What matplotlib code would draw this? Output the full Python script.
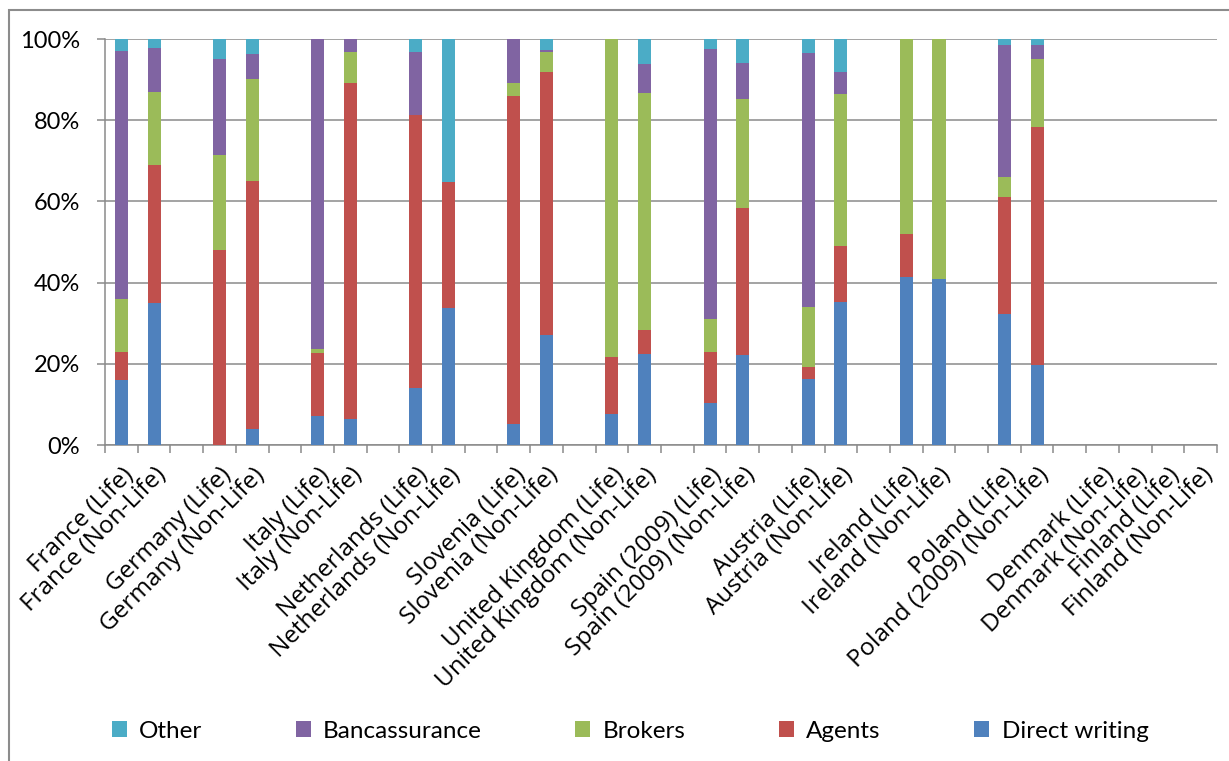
import matplotlib
matplotlib.use("Agg")
import matplotlib.pyplot as plt
from matplotlib.patches import Rectangle, Patch
from matplotlib.ticker import PercentFormatter, FixedLocator
import numpy as np

# Distribution channels by country and line of business (share of premiums, %)
categories = [
    "France (Life)", "France (Non-Life)", "",
    "Germany (Life)", "Germany (Non-Life)", "",
    "Italy (Life)", "Italy (Non-Life)", "",
    "Netherlands (Life)", "Netherlands (Non-Life)", "",
    "Slovenia (Life)", "Slovenia (Non-Life)", "",
    "United Kingdom (Life)", "United Kingdom (Non-Life)", "",
    "Spain (2009) (Life)", "Spain (2009) (Non-Life)", "",
    "Austria (Life)", "Austria (Non-Life)", "",
    "Ireland (Life)", "Ireland (Non-Life)", "",
    "Poland (Life)", "Poland (2009) (Non-Life)", "",
    "Denmark (Life)", "Denmark (Non-Life)", "Finland (Life)", "Finland (Non-Life)",
]

direct_writing = [15.9, 34.9, 0, 0.0, 4.0, 0, 7.2, 6.4, 0, 14.1, 33.8, 0,
                  5.1, 27.0, 0, 7.7, 22.5, 0, 10.3, 22.2, 0, 16.3, 35.2, 0,
                  41.5, 40.8, 0, 32.3, 19.8, 0, 0, 0, 0, 0]
agents = [7.0, 34.1, 0, 48.1, 61.0, 0, 15.4, 82.7, 0, 67.1, 31.1, 0,
          80.8, 64.8, 0, 13.9, 5.8, 0, 12.6, 36.2, 0, 2.9, 13.9, 0,
          10.4, 0.0, 0, 28.9, 58.6, 0, 0, 0, 0, 0]
brokers = [13.0, 18.0, 0, 23.3, 25.1, 0, 1.1, 7.7, 0, 0.0, 0.0, 0,
           3.3, 5.1, 0, 78.4, 58.4, 0, 8.2, 26.9, 0, 14.7, 37.4, 0,
           48.1, 59.2, 0, 4.8, 16.6, 0, 0, 0, 0, 0]
bancassurance = [61.1, 10.9, 0, 23.7, 6.2, 0, 76.3, 3.2, 0, 15.6, 0.0, 0,
                 10.8, 0.5, 0, 0.0, 7.1, 0, 66.4, 8.8, 0, 62.6, 5.4, 0,
                 0.0, 0.0, 0, 32.6, 3.4, 0, 0, 0, 0, 0]
other = [3.0, 2.1, 0, 4.9, 3.7, 0, 0.0, 0.0, 0, 3.2, 35.1, 0,
         0.0, 2.6, 0, 0.0, 6.2, 0, 2.5, 5.9, 0, 3.5, 8.1, 0,
         0.0, 0.0, 0, 1.4, 1.6, 0, 0, 0, 0, 0]

series_names = ["Direct writing", "Agents", "Brokers", "Bancassurance", "Other"]
series_values = [direct_writing, agents, brokers, bancassurance, other]
series_colors = ["#4F81BD", "#C0504D", "#9BBB59", "#8064A2", "#4BACC6"]

plt.rcParams["font.family"] = ["Lato", "DejaVu Sans"]

W, H = 1229, 761
fig = plt.figure(figsize=(W / 100, H / 100), dpi=100)
ax = fig.add_axes([105 / W, 1 - 445 / H, (1217 - 105) / W, (445 - 39) / H])

x = np.arange(len(categories))
bottom = np.zeros(len(categories))
handles = {}
for name, vals, col in zip(series_names, series_values, series_colors):
    vals = np.asarray(vals, dtype=float)
    ax.bar(x, vals, bottom=bottom, width=0.4, color=col,
           edgecolor="none", zorder=3)
    handles[name] = Patch(facecolor=col, edgecolor="none")
    bottom += vals

grid_col = "#8a8a8a"
ax.set_xlim(-0.5, len(categories) - 0.5)
ax.set_ylim(0, 100)
ax.set_yticks(np.arange(0, 101, 20))
ax.yaxis.set_major_formatter(PercentFormatter(decimals=0))
ax.grid(axis="y", color=grid_col, linewidth=1.1, zorder=0)
ax.set_axisbelow(True)

for side in ("top", "right"):
    ax.spines[side].set_visible(False)
for side in ("left", "bottom"):
    ax.spines[side].set_color(grid_col)
    ax.spines[side].set_linewidth(1.1)

# tick marks between categories, labels at category centres
ax.xaxis.set_major_locator(FixedLocator(np.arange(-0.5, len(categories), 1.0)))
ax.xaxis.set_major_formatter(plt.NullFormatter())
ax.xaxis.set_minor_locator(FixedLocator(x))
ax.set_xticklabels(categories, minor=True, rotation=45, ha="right",
                   va="top", rotation_mode="anchor", fontsize=17.5,
                   family=["Open Sans", "DejaVu Sans"])
ax.tick_params(axis="x", which="major", length=6, width=1.1, color=grid_col,
               direction="out")
ax.tick_params(axis="x", which="minor", length=0, pad=13)
ax.tick_params(axis="y", length=6, width=1.1, color=grid_col, direction="out",
               pad=12, labelsize=17)

# chart area frame
fig.add_artist(Rectangle((9 / W, -0.1), 1.2, (1 - 10 / H) + 0.1,
                         transform=fig.transFigure, fill=False,
                         edgecolor="#8c8c8c", linewidth=1.5))

order = ["Other", "Bancassurance", "Brokers", "Agents", "Direct writing"]
fig.legend([handles[n] for n in order], order, loc="center",
           bbox_to_anchor=(630 / W, 1 - 731 / H), ncol=5, frameon=False,
           fontsize=17.5, handlelength=0.62, handleheight=0.62,
           handletextpad=0.5, columnspacing=3.85)

fig.savefig("out.png", dpi=100)
